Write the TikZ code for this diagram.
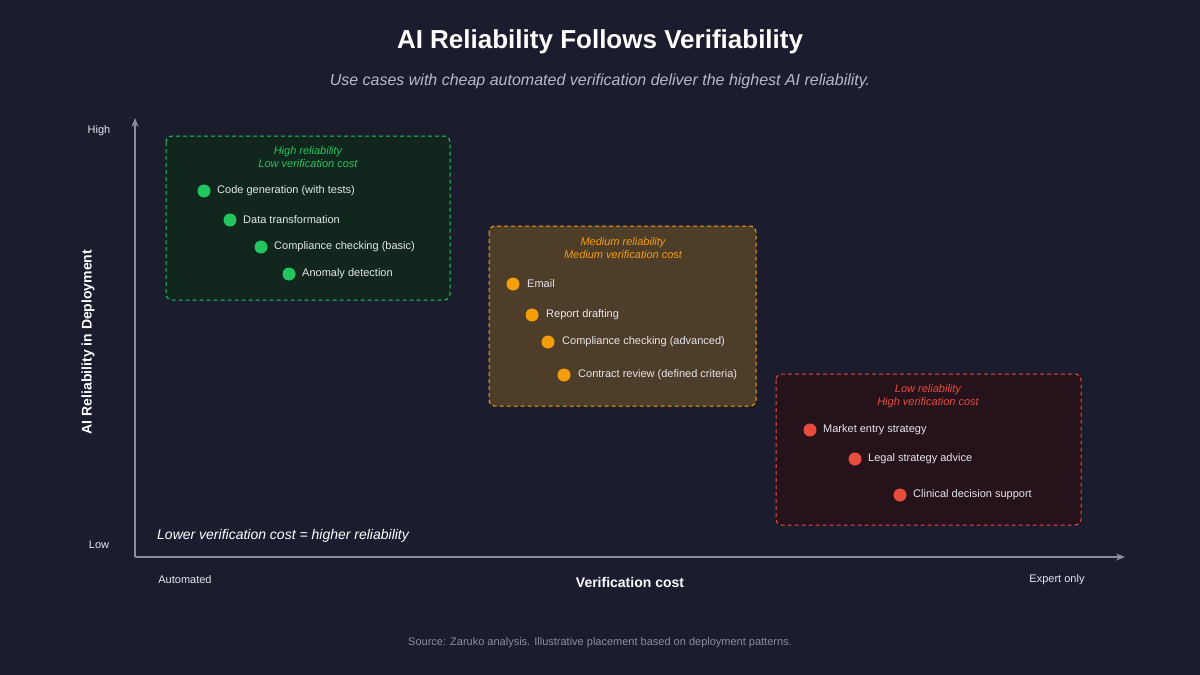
\documentclass[tikz,border=0pt]{standalone}
\usepackage{fontspec}
\setmainfont{Liberation Sans}
\usetikzlibrary{arrows.meta}
\definecolor{bg}{HTML}{1B1C2E}
\definecolor{gr}{HTML}{22C55E}
\definecolor{grf}{HTML}{11261C}
\definecolor{org}{HTML}{F59E0B}
\definecolor{orf}{HTML}{4E3D29}
\definecolor{rd}{HTML}{E74C3C}
\definecolor{rdf}{HTML}{25121A}
\definecolor{ax}{HTML}{8C8EA0}
\definecolor{tx}{HTML}{E6E6EE}
\definecolor{sub}{HTML}{B8B9C8}
\tikzset{x=1pt,y=-1pt,
 zone/.style={draw=#1,dashed,line width=1pt,rounded corners=6pt,dash pattern=on 4pt off 3pt},
 dot/.style={circle,fill=#1,minimum size=13pt,inner sep=0pt},
 item/.style={right,text=tx,font=\fontsize{11}{13}\selectfont,inner sep=0pt},
 head/.style={text=#1,font=\fontsize{11}{13}\selectfont\itshape,align=center},
 small/.style={text=tx,font=\fontsize{11}{13}\selectfont}}
\begin{document}
\begin{tikzpicture}
\fill[bg] (0,0) rectangle (1200,675);
\useasboundingbox (0,0) rectangle (1200,675);
\node[text=white,font=\fontsize{26}{30}\selectfont\bfseries] (title) at (600,42) {AI Reliability Follows Verifiability};
\node[text=sub,font=\fontsize{16}{19}\selectfont\itshape] (subt) at (600,81) {Use cases with cheap automated verification deliver the highest AI reliability.};
% axes
\coordinate (o) at (135,557);
\coordinate (ytop) at (135,118);
\coordinate (xend) at (1125,557);
\draw[ax,line width=1.5pt,-{Stealth[length=9pt,width=7pt]}] (o) -- (ytop);
\draw[ax,line width=1.5pt,-{Stealth[length=9pt,width=7pt]}] (o) -- (xend);
\node[small] (hi) at (99,131) {High};
\node[small] (lo) at (99,545) {Low};
\node[small] (auto) at (185,580) {Automated};
\node[small] (exp) at (1057,580) {Expert only};
\node[text=white,font=\fontsize{14}{16}\selectfont\bfseries] (xl) at (630,582) {Verification cost};
\node[text=white,font=\fontsize{14}{16}\selectfont\bfseries,rotate=90] (yl) at (88,342) {AI Reliability in Deployment};
\node[text=white,font=\fontsize{14}{16}\selectfont\itshape,right,inner sep=0pt] (note) at (157,536) {Lower verification cost = higher reliability};
\node[text=ax,font=\fontsize{11}{13}\selectfont] (src) at (600,643) {Source: Zaruko analysis. Illustrative placement based on deployment patterns.};
% green
\draw[zone=gr,fill=grf] (166,136) rectangle (450,300);
\node[head=gr] (gh) at (308,157) {High reliability\\Low verification cost};
\foreach \x/\y/\t [count=\i] in {204/191/Code generation (with tests),230/220/Data transformation,261/247/Compliance checking (basic),289/274/Anomaly detection}{
 \node[dot=gr] (g\i) at (\x,\y) {};
 \node[item] (gt\i) at (\x+13,\y) {\t};}
% orange
\draw[zone=org,fill=orf] (489,226) rectangle (756,406);
\node[head=org] (oh) at (623,248) {Medium reliability\\Medium verification cost};
\foreach \x/\y/\t [count=\i] in {513/284/Email / comms drafting,532/315/Report drafting,548/342/Compliance checking (advanced),564/375/Contract review (defined criteria)}{
 \node[dot=org] (o\i) at (\x,\y) {};
 \node[item] (ot\i) at (\x+14,\y) {\t};}
% red
\draw[zone=rd,fill=rdf] (776,374) rectangle (1081,525);
\node[head=rd] (rh) at (928,396) {Low reliability\\High verification cost};
\foreach \x/\y/\t [count=\i] in {810/430/Market entry strategy,855/459/Legal strategy advice,900/495/Clinical decision support}{
 \node[dot=rd] (r\i) at (\x,\y) {};
 \node[item] (rt\i) at (\x+13,\y) {\t};}
\end{tikzpicture}
\end{document}
